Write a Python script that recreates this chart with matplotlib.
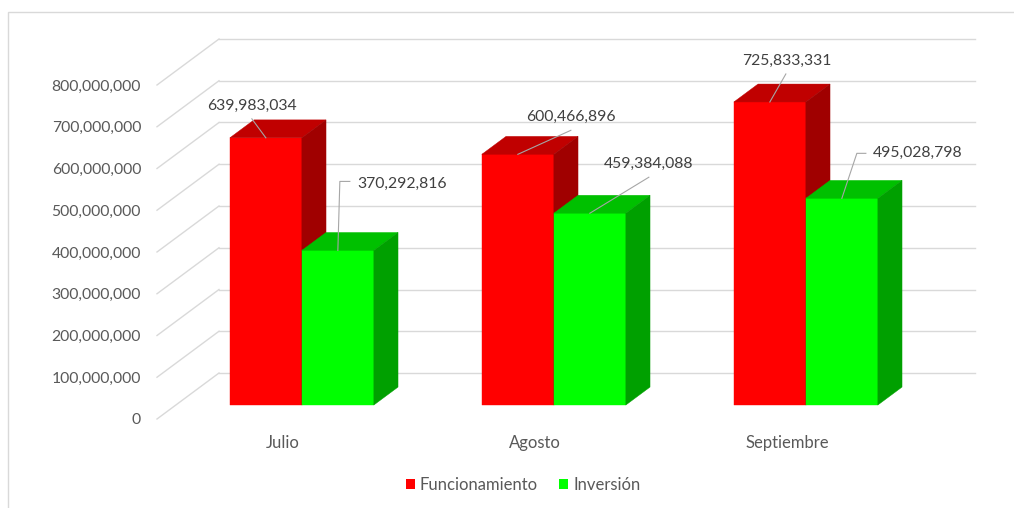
import matplotlib
matplotlib.use("Agg")
import matplotlib.pyplot as plt
from matplotlib.patches import Polygon, Patch, Rectangle
from matplotlib.ticker import FuncFormatter

# ---- data ----
categories = ["Julio", "Agosto", "Septiembre"]
series_names = ["Funcionamiento", "Inversión"]
funcionamiento = [639983034, 600466896, 725833331]
inversion = [370292816, 459384088, 495028798]
y_ticks = [0, 100000000, 200000000, 300000000, 400000000,
           500000000, 600000000, 700000000, 800000000]

# ---- style ----
plt.rcParams['font.family'] = ['Lato', 'DejaVu Sans']
FS = 11.3
FS_TXT = 12.0
AX_COL = "#595959"
LBL_COL = "#404040"
GRID_COL = "#D9D9D9"
front_cols = ["#FF0000", "#00FF00"]
top_cols = ["#C00000", "#00C000"]
side_cols = ["#A00000", "#00A000"]

W, H = 1014, 508
fig = plt.figure(figsize=(W / 100, H / 100), dpi=100)
# axes: front plane of the 3D box
left_px, right_px, top_px, bot_px = 157, 913, 85, 419
ax = fig.add_axes([left_px / W, (H - bot_px) / H,
                   (right_px - left_px) / W, (bot_px - top_px) / H])
ax.set_xlim(0, 3)
ax.set_ylim(0, 8e8)
for s in ax.spines.values():
    s.set_visible(False)
ax.patch.set_alpha(0)

sx = (right_px - left_px) / 3.0          # px per category unit
sy = (bot_px - top_px) / 8e8             # px per value unit

# depth vector (full depth) in data units
ddx = 62 / sx
ddy = 46 / sy
d0 = 0.304      # front of bars
bd = 0.39       # bar depth
gap = 54 / sx
bw = 72 / sx

# back wall + left wall gridlines
for v in y_ticks:
    ax.plot([0, ddx], [v, v + ddy], color=GRID_COL, lw=1.0, clip_on=False, zorder=1)
    ax.plot([ddx, 3 + ddx], [v + ddy, v + ddy], color=GRID_COL, lw=1.0,
            clip_on=False, zorder=1)

def off(x, v, dxp, dyp):
    return x + dxp / sx, v + dyp / sy

series = [funcionamiento, inversion]
anchors = {}
z = 2
for i in range(len(categories)):
    for j, vals in enumerate(series):
        v = vals[i]
        x0 = i + gap + j * bw + d0 * ddx
        y0 = d0 * ddy
        bx, by = bd * ddx, bd * ddy
        front = [(x0, y0), (x0 + bw, y0), (x0 + bw, v + y0), (x0, v + y0)]
        top = [(x0, v + y0), (x0 + bw, v + y0), (x0 + bw + bx, v + y0 + by),
               (x0 + bx, v + y0 + by)]
        side = [(x0 + bw, y0), (x0 + bw + bx, y0 + by), (x0 + bw + bx, v + y0 + by),
                (x0 + bw, v + y0)]
        for poly, col in ((front, front_cols[j]), (top, top_cols[j]), (side, side_cols[j])):
            ax.add_patch(Polygon(poly, closed=True, facecolor=col, edgecolor=col,
                                 lw=0.3, clip_on=False, zorder=z))
        z += 1
        anchors[(i, j)] = (x0 + bw / 2, v + y0)

# data labels: text offset (px, up), alignment, leader path (px offsets)
label_layout = {
    (0, 0): ((-13.5, 32), 'center', [(-14, 19), (0, 0)]),
    (0, 1): ((19, 67), 'left', [(12, 69), (2, 69), (0, 0)]),
    (1, 0): ((53, 37), 'center', [(53, 24), (0, 0)]),
    (1, 1): ((14, 49), 'left', [(59, 36), (0, 0)]),
    (2, 0): ((16.5, 41), 'center', [(16, 28), (0, 0)]),
    (2, 1): ((31, 45), 'left', [(24, 45), (15, 45), (0, 0)]),
}
for (i, j), (toff, ha, path) in label_layout.items():
    ax_, ay_ = anchors[(i, j)]
    pts = [off(ax_, ay_, px, py) for px, py in path]
    ax.plot([p[0] for p in pts], [p[1] for p in pts], color="#A6A6A6", lw=0.8,
            clip_on=False, zorder=20)
    tx, ty = off(ax_, ay_, *toff)
    ax.text(tx, ty, f"{series[j][i]:,}", ha=ha, va='center', fontsize=FS,
            color=LBL_COL, zorder=21)

# axes ticks
ax.set_yticks(y_ticks)
ax.yaxis.set_major_formatter(FuncFormatter(lambda v, p: f"{int(v):,}"))
ax.set_xticks([i + 0.5 for i in range(len(categories))])
ax.set_xticklabels(categories)
ax.tick_params(axis='y', length=0, pad=11.5, labelsize=FS, labelcolor=AX_COL)
ax.tick_params(axis='x', length=0, pad=11.5, labelsize=FS_TXT, labelcolor=AX_COL)

# legend
handles = [Patch(facecolor=front_cols[k], edgecolor='none', label=series_names[k])
           for k in range(2)]
fig.legend(handles=handles, loc='center', bbox_to_anchor=(523 / W, 1 - 485 / H),
           ncol=2, frameon=False, fontsize=FS_TXT, handlelength=0.55, handleheight=0.55,
           handletextpad=0.3, columnspacing=1.25, labelcolor=AX_COL)

# chart frame
fig.add_artist(Rectangle((8 / W, -0.5), 2, 0.5 + (1 - 12 / H), transform=fig.transFigure,
                         fill=False, edgecolor=GRID_COL, lw=1.0))

fig.savefig("out.png", dpi=100)
